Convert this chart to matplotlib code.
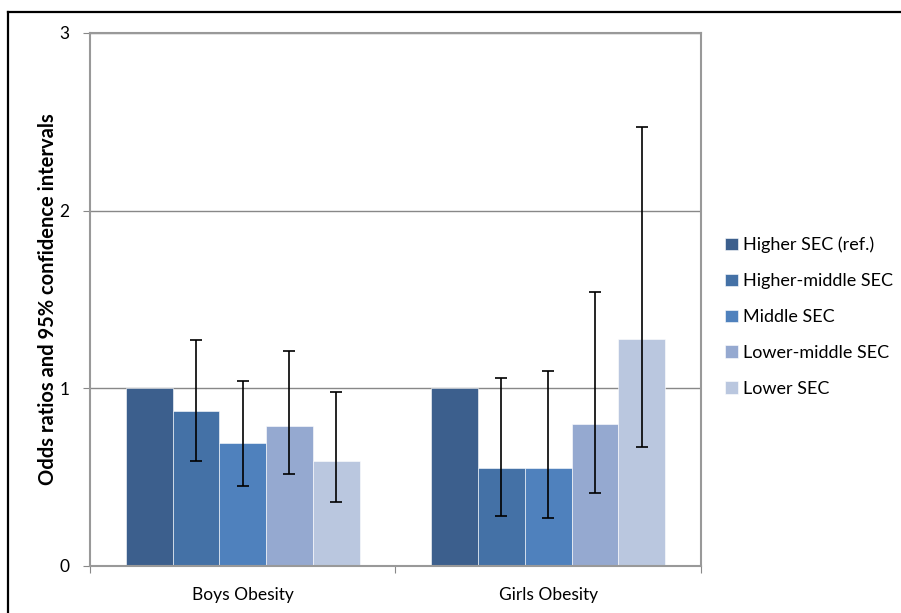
import matplotlib.pyplot as plt
import numpy as np

plt.rcParams['font.family'] = ['Lato', 'DejaVu Sans']

groups = ['Boys Obesity', 'Girls Obesity']
series = ['Higher SEC (ref.)', 'Higher-middle SEC', 'Middle SEC',
          'Lower-middle SEC', 'Lower SEC']
colors = ['#3C5F8D', '#4471A6', '#4F81BD', '#95A9D0', '#BAC7DF']

# odds ratios, one list per series: [boys, girls]
odds = [[1.00, 1.00],
        [0.87, 0.55],
        [0.69, 0.55],
        [0.79, 0.80],
        [0.59, 1.28]]
ci_low = [[None, None],
          [0.59, 0.28],
          [0.45, 0.27],
          [0.52, 0.41],
          [0.36, 0.67]]
ci_high = [[None, None],
           [1.27, 1.06],
           [1.04, 1.10],
           [1.21, 1.54],
           [0.98, 2.47]]

fig = plt.figure(figsize=(9.01, 6.13), dpi=100)
ax = fig.add_axes([0.0999, 0.0767, 0.678, 0.8695])

x = np.arange(len(groups))
w = 0.765 / len(series)
for i, name in enumerate(series):
    pos = x - 0.765 / 2 + w * (i + 0.5)
    ax.bar(pos, odds[i], w, color=colors[i], edgecolor='white', linewidth=0.4,
           label=name, zorder=2)
    if ci_low[i][0] is not None:
        lo = np.array(odds[i]) - np.array(ci_low[i])
        hi = np.array(ci_high[i]) - np.array(odds[i])
        ax.errorbar(pos, odds[i], yerr=[lo, hi], fmt='none', ecolor='black',
                    elinewidth=1.2, capsize=4, capthick=1.2, zorder=3)

ax.set_xlim(-0.5, 1.5)
ax.set_ylim(0, 3)
ax.set_yticks([0, 1, 2, 3])
ax.set_yticklabels(['0', '1', '2', '3'], fontsize=12.5)
ax.set_xticks([-0.5, 0.5, 1.5])
ax.set_xticklabels([])
ax.set_xticks(x, minor=True)
ax.set_xticklabels(groups, minor=True, fontsize=12.5)
ax.tick_params(axis='x', which='minor', length=0, pad=15)
ax.tick_params(axis='x', which='major', length=5, color='#888888')
ax.tick_params(axis='y', length=5, color='#888888', pad=10)
ax.grid(axis='y', color='#888888', linewidth=1, zorder=0)
ax.set_axisbelow(True)
for s in ax.spines.values():
    s.set_color('#999999')
    s.set_linewidth(1.5)

ax.set_ylabel('Odds ratios and 95% confidence intervals', fontsize=14.5,
              fontweight='bold', labelpad=1)

fig.legend(loc='upper left', bbox_to_anchor=(0.787, 0.64), frameon=False,
           fontsize=13, handlelength=0.7, handleheight=0.7, handletextpad=0.3,
           labelspacing=1.1)

# outer black frame (only left and top visible in the crop)
fig.add_artist(plt.Line2D([8 / 901, 8 / 901], [0, 1 - 12 / 613],
                          color='black', linewidth=1.6, transform=fig.transFigure))
fig.add_artist(plt.Line2D([8 / 901, 1], [1 - 12 / 613, 1 - 12 / 613],
                          color='black', linewidth=1.6, transform=fig.transFigure))

fig.savefig('out.png', dpi=100)
